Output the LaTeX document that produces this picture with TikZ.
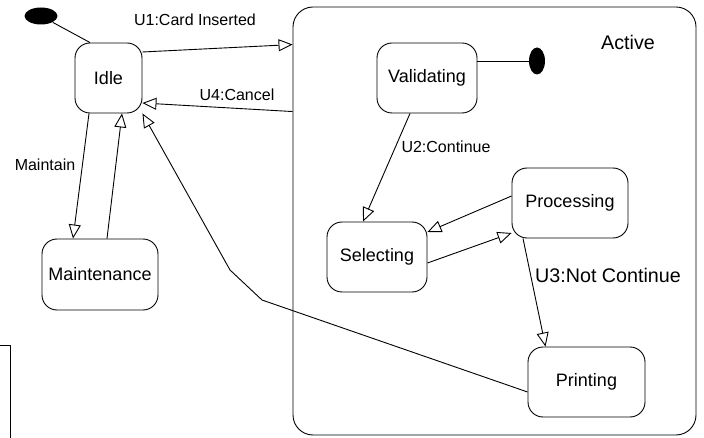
\documentclass[tikz,border=0pt]{standalone}
\usepackage{fontspec}
\setmainfont{Liberation Sans}
\usetikzlibrary{arrows.meta,shapes.geometric}
\begin{document}
\begin{tikzpicture}[x=1pt,y=-1pt,line join=round,line width=.9pt,
    >={Triangle[open,length=14pt,width=12pt]},
    state/.style={draw,rounded corners=15pt,inner sep=0pt,font=\fontsize{18}{21}\selectfont},
    lbl/.style={inner sep=0pt,font=\fontsize{16}{19}\selectfont},
    biglbl/.style={inner sep=0pt,font=\fontsize{19.7}{23}\selectfont},
    dot/.style={ellipse,fill,inner sep=0pt}]
    \useasboundingbox (0,0) rectangle (704,438);
    % composite state
    \node[draw,rounded corners=20pt,minimum width=403pt,minimum height=428pt] (active) at (494.5,221) {};
    \node[biglbl] (lactive) at (628,42) {Active};
    % states
    \node[state,minimum width=67pt,minimum height=70pt] (idle) at (108.5,78) {Idle};
    \node[state,minimum width=116pt,minimum height=71pt] (maint) at (100,274.5) {Maintenance};
    \node[state,minimum width=100pt,minimum height=70pt] (valid) at (427,78) {Validating};
    \node[state,minimum width=116pt,minimum height=70pt] (proc) at (570,203) {Processing};
    \node[state,minimum width=100pt,minimum height=70pt] (sel) at (377,257) {Selecting};
    \node[state,minimum width=117pt,minimum height=70pt] (print) at (586.5,382) {Printing};
    \node[dot,minimum width=33pt,minimum height=17pt] (init) at (41,16) {};
    \node[dot,minimum width=16pt,minimum height=27pt] (fin) at (537,61) {};
    \coordinate (bendA) at (262,300);
    \coordinate (bendB) at (230,270);
    % transitions
    \draw (init) -- ([xshift=-18.5pt]idle.north);
    \draw[->] ([yshift=26pt]idle.east) -- ([yshift=-38pt]active.north west);
    \draw[->] ([yshift=-105pt]active.north west) -- ([yshift=-25pt]idle.east);
    \draw[->] ([xshift=-19.5pt]idle.south) -- ([xshift=-27pt]maint.north);
    \draw[->] ([xshift=7pt]maint.north) -- ([xshift=13.5pt]idle.south);
    \draw[->] ([yshift=-10pt]print.west) -- (bendA) -- (bendB) -- (idle.south east);
    \draw ([yshift=17pt]valid.east) -- (fin);
    \draw[->] ([xshift=-17pt]valid.south) -- ([xshift=-14pt]sel.north);
    \draw[->] ([yshift=7pt]proc.west) -- ([yshift=25pt]sel.east);
    \draw[->] ([yshift=-6pt]sel.east) -- ([yshift=-30pt]proc.west);
    \draw[->] ([xshift=-47pt]proc.south) -- ([xshift=-41pt]print.north);
    %\draw (0,345) -- (10,345);
    \draw (0,345) -- (10,345) -- (10,438);
    % labels
    \node[lbl] (lcard) at (195,20) {U1:Card Inserted};
    \node[lbl] (lcancel) at (237,95) {U4:Cancel};
    \node[lbl] (lmaint) at (45,165) {Maintain};
    \node[lbl] (lcont) at (446,147) {U2:Continue};
    \node[biglbl] (lnot) at (608,275) {U3:Not Continue};
\end{tikzpicture}
\end{document}
